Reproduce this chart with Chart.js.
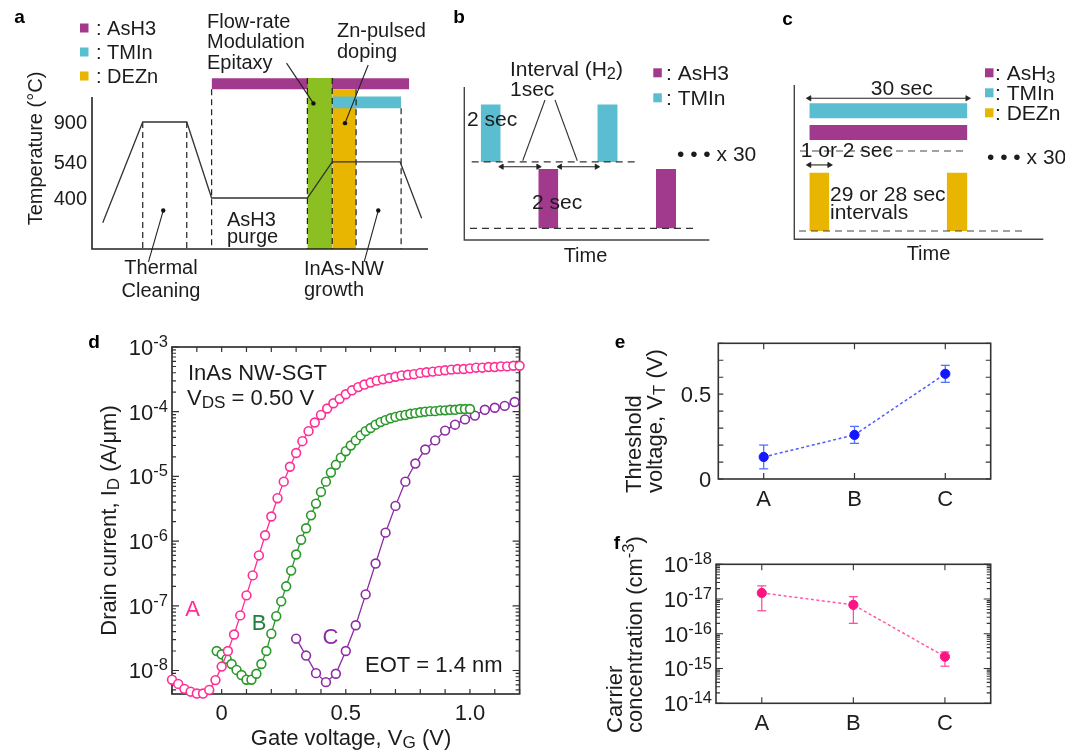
<!DOCTYPE html>
<html>
<head>
<meta charset="utf-8">
<title>InAs NW-SGT figure</title>
<script src="https://cdn.jsdelivr.net/npm/chart.js@4.4.1/dist/chart.umd.min.js"></script>
<style>
  html, body { margin:0; padding:0; background:#fff; }
  #fig { position:relative; width:1065px; height:754px; background:#fff; overflow:hidden; }
  #fig canvas { position:absolute; left:0; top:0; }
</style>
</head>
<body>
<div id="fig">
  <canvas id="panelA" width="1065" height="754"></canvas>
  <canvas id="panelB" width="1065" height="754"></canvas>
  <canvas id="panelC" width="1065" height="754"></canvas>
  <canvas id="panelD" width="1065" height="754"></canvas>
  <canvas id="panelE" width="1065" height="754"></canvas>
  <canvas id="panelF" width="1065" height="754"></canvas>
</div>
<script>
// ======================= DATA =======================
// (a) growth sequence, schematic time axis (0-100) and schematic temperature levels
const aGasNames       = ['AsH3', 'TMIn', 'DEZn'];
const aTempTickLabels = ['400', '540', '900'];
const aTempTickLevels = [0, 0.95, 2];
const aProfileTime    = [3.2, 15.1, 28.2, 35.6, 64.1, 71.5, 91.7, 98.1];
const aProfileLevel   = [-0.65, 2, 2, 0, 0, 0.95, 0.95, -0.53];
const aAsH3Time = [35.6, 94.4], aAsH3Level = [2.86, 3.15];
const aTMInTime = [71.5, 92.0], aTMInLevel = [2.36, 2.67];
const aFMETime  = [64.1, 71.5], aFMELevel  = [-1.342, 3.16];
const aZnTime   = [71.5, 78.6], aZnLevel   = [-1.342, 2.86];
const aStepTime = [15.1, 28.2, 35.6, 64.1, 71.5, 78.6, 92.0];
const aStepTop  = [2, 2, 2.86, 3.16, 3.16, 2.86, 2.36];
const aLeaderFrom = [[57.9, 3.55], [82.2, 3.5], [16.8, -1.68], [81.0, -1.68]];
const aLeaderTo   = [[65.9, 2.49], [75.3, 1.97], [21.2, -0.33], [85.2, -0.33]];

// (b) flow-rate modulation epitaxy pulses (schematic)
const bTMInPulses = [[1.64, 3.64], [13.3, 15.34]], bTMInLevel = [0.51, 0.885];
const bAsH3Pulses = [[7.4, 9.4], [19.17, 21.17]],  bAsH3Level = [0.076, 0.464];
const bBaseLevels = [0.51, 0.076];
const bBaseSpans  = [[0.74, 17.47], [0.57, 23.07]];
const bIntervalArrows = [[3.74, 7.4], [9.57, 13.24]], bArrowLevel = 0.479;
const bLeaderFrom = [[8.07, 0.915], [9.07, 0.915]];
const bLeaderTo   = [[5.84, 0.518], [11.3, 0.518]];

// (c) Zn-pulsed doping (schematic, seconds)
const cRunTime   = [3, 33];
const cTMInLevel = [0.784, 0.881];
const cAsH3Level = [0.644, 0.741];
const cZnPulses  = [[3, 6.8], [29.07, 33]], cZnLevel = [0.054, 0.432];
const cBaseLevels = [0.572, 0.054];
const cBaseSpans  = [[1.23, 33], [1.04, 43.93]];
const cArrowLevels = [0.914, 0.482];
const cArrowSpans  = [[3, 33], [3, 6.8]];

// (d) transfer characteristics, ID (A/um) vs VG (V)
const dVgA = [-0.2,-0.175,-0.15,-0.125,-0.1,-0.075,-0.05,-0.025,0,0.025,0.05,0.075,0.1,0.125,0.15,0.175,0.2,0.225,0.25,0.275,0.3,0.325,0.35,0.375,0.4,0.425,0.45,0.475,0.5,0.525,0.55,0.575,0.6,0.625,0.65,0.675,0.7,0.725,0.75,0.775,0.8,0.825,0.85,0.875,0.9,0.925,0.95,0.975,1.0,1.025,1.05,1.075,1.1,1.125,1.15,1.175,1.2];
const dIdA = [7.2e-9,6.2e-9,5.2e-9,4.7e-9,4.4e-9,4.4e-9,5.0e-9,7.1e-9,1.15e-8,2.0e-8,3.6e-8,7.1e-8,1.45e-7,2.95e-7,6.0e-7,1.23e-6,2.4e-6,4.6e-6,8.3e-6,1.41e-5,2.3e-5,3.5e-5,5.0e-5,6.8e-5,8.9e-5,1.12e-4,1.35e-4,1.58e-4,1.86e-4,2.14e-4,2.4e-4,2.63e-4,2.82e-4,3.02e-4,3.16e-4,3.31e-4,3.47e-4,3.63e-4,3.72e-4,3.80e-4,3.98e-4,4.07e-4,4.17e-4,4.27e-4,4.37e-4,4.47e-4,4.57e-4,4.57e-4,4.68e-4,4.79e-4,4.79e-4,4.90e-4,4.90e-4,5.01e-4,5.01e-4,5.13e-4,5.13e-4];
const dVgB = [-0.02,0,0.02,0.04,0.06,0.08,0.10,0.12,0.14,0.16,0.18,0.20,0.22,0.24,0.26,0.28,0.30,0.32,0.34,0.36,0.38,0.40,0.42,0.44,0.46,0.48,0.50,0.52,0.54,0.56,0.58,0.60,0.62,0.64,0.66,0.68,0.70,0.72,0.74,0.76,0.78,0.80,0.82,0.84,0.86,0.88,0.90,0.92,0.94,0.96,0.98,1.00];
const dIdB = [2.0e-8,1.78e-8,1.51e-8,1.26e-8,1.02e-8,8.5e-9,7.2e-9,7.2e-9,8.9e-9,1.26e-8,2.0e-8,3.7e-8,6.9e-8,1.17e-7,2.0e-7,3.5e-7,6.2e-7,1.05e-6,1.58e-6,2.5e-6,3.8e-6,5.75e-6,8.3e-6,1.15e-5,1.51e-5,1.95e-5,2.45e-5,3.0e-5,3.6e-5,4.3e-5,5.0e-5,5.6e-5,6.3e-5,6.9e-5,7.4e-5,7.9e-5,8.3e-5,8.7e-5,8.9e-5,9.3e-5,9.5e-5,9.8e-5,1.0e-4,1.02e-4,1.02e-4,1.05e-4,1.05e-4,1.07e-4,1.07e-4,1.10e-4,1.10e-4,1.10e-4];
const dVgC = [0.30,0.34,0.38,0.42,0.46,0.50,0.54,0.58,0.62,0.66,0.70,0.74,0.78,0.82,0.86,0.90,0.94,0.98,1.02,1.06,1.10,1.14,1.18];
const dIdC = [3.1e-8,1.7e-8,9.1e-9,6.6e-9,8.9e-9,2.0e-8,5.0e-8,1.5e-7,4.5e-7,1.35e-6,3.5e-6,8.3e-6,1.58e-5,2.6e-5,3.6e-5,5.1e-5,6.3e-5,7.6e-5,8.7e-5,1.07e-4,1.15e-4,1.23e-4,1.41e-4];
const dXTickValues = [0, 0.5, 1.0];
const dXTickLabels = ['0', '0.5', '1.0'];
const dYTickExp    = [-3, -4, -5, -6, -7, -8];

// (e) threshold voltage
const eSamples = ['A', 'B', 'C'];
const eVt      = [0.13, 0.26, 0.62];
const eVtLow   = [0.06, 0.21, 0.57];
const eVtHigh  = [0.20, 0.31, 0.67];
const eYTickValues = [0, 0.5];
const eYTickLabels = ['0', '0.5'];

// (f) carrier concentration
const fSamples = ['A', 'B', 'C'];
const fConc     = [1.5e17, 6.8e16, 2.2e15];
const fConcLow  = [4.6e16, 2.0e16, 1.17e15];
const fConcHigh = [2.4e17, 1.17e17, 3.0e15];
const fTickExp  = [14, 15, 16, 17, 18];

// ======================= STYLE / HELPERS =======================
const FONT = '"Liberation Sans", Arial, Helvetica, sans-serif';
const INK = '#1c1c1c';
const C_ASH3 = '#a1398d', C_TMIN = '#5bbdd0', C_DEZN = '#e8b500', C_FME = '#8bbf22';
const C_A = '#ff2e96', C_B = '#2a982a', C_C = '#8c2ca4';
const FRAME = '#333';

function drawRich(ctx, parts, x, y, o) {
  o = o || {};
  const size = o.size || 20, align = o.align || 'left';
  const weight = o.bold ? 'bold ' : '';
  const items = (Array.isArray(parts) ? parts : [parts]).map(p =>
    typeof p === 'string' ? { t: p, m: '' } : { t: p[0], m: p[1] });
  ctx.save();
  ctx.translate(x, y);
  if (o.rot) ctx.rotate(o.rot);
  ctx.fillStyle = o.color || INK;
  ctx.textBaseline = 'alphabetic';
  ctx.textAlign = 'left';
  let total = 0;
  for (const it of items) {
    it.size = it.m === 'sub' ? size * 0.78 : it.m === 'sup' ? size * 0.75 : size;
    ctx.font = weight + it.size + 'px ' + FONT;
    it.w = ctx.measureText(it.t).width;
    total += it.w;
  }
  let cx = align === 'center' ? -total / 2 : align === 'right' ? -total : 0;
  const base = size * 0.36;
  for (const it of items) {
    ctx.font = weight + it.size + 'px ' + FONT;
    const dy = it.m === 'sub' ? size * 0.14 : it.m === 'sup' ? -size * 0.36 : 0;
    ctx.fillText(it.t, cx, base + dy);
    cx += it.w;
  }
  ctx.restore();
}
function padTo(l, t, r, b) { return { left: l, top: t, right: 1065 - r, bottom: 754 - b }; }
function baseOptions(pad, xOpt, yOpt) {
  return {
    responsive: false, maintainAspectRatio: false, animation: false, events: [],
    layout: { padding: pad },
    plugins: { legend: { display: false }, tooltip: { enabled: false }, title: { display: false } },
    scales: {
      x: Object.assign({ type: 'linear', display: false }, xOpt),
      y: Object.assign({ type: 'linear', display: false }, yOpt)
    }
  };
}
function layered(list) { list.forEach((d, i) => { d.order = list.length - i; }); return list; }
function rectDS(xr, yr, color) {
  return { type: 'line', data: [{ x: xr[0], y: yr[1] }, { x: xr[1], y: yr[1] }],
    fill: { value: yr[0] }, backgroundColor: color, borderColor: 'rgba(0,0,0,0)', borderWidth: 0,
    pointRadius: 0, tension: 0, clip: false };
}
function lineDS(points, opt) {
  return Object.assign({ type: 'line', data: points, borderColor: '#333', borderWidth: 1.3,
    pointRadius: 0, fill: false, tension: 0, clip: false }, opt);
}
function arrowDS(x0, x1, y) {
  return lineDS([{ x: x0, y: y }, { x: x1, y: y }], { borderColor: '#222', borderWidth: 1.1,
    pointStyle: 'triangle', pointRotation: [-90, 90], pointRadius: 3,
    pointBackgroundColor: '#222', pointBorderColor: '#222', pointBorderWidth: 0.8 });
}
function curveDS(xs, ys, color) {
  return { type: 'line', data: xs.map((x, i) => ({ x: x, y: ys[i] })), borderColor: color, borderWidth: 1.3,
    pointRadius: 4.4, pointBorderWidth: 1.6, pointBorderColor: color, pointBackgroundColor: '#fff',
    tension: 0, clip: false, fill: false };
}
function errDS(lo, hi, color) {
  const pts = [];
  lo.forEach((l, i) => { pts.push({ x: i, y: l }, { x: i, y: hi[i] }, { x: i, y: null }); });
  return { type: 'line', data: pts, borderColor: color, borderWidth: 1.3, spanGaps: false,
    pointStyle: 'line', pointRadius: 4.5, pointBorderWidth: 1.3, pointBorderColor: color, clip: false, fill: false };
}
function markerDS(vals, color) {
  return { type: 'line', data: vals.map((v, i) => ({ x: i, y: v })), showLine: false,
    pointRadius: 4.6, pointBackgroundColor: color, pointBorderColor: color, pointBorderWidth: 1, clip: false };
}
function legendRows(ctx, names, colors, sx, sy, step, tx, size, subLast) {
  names.forEach((g, i) => {
    ctx.fillStyle = colors[i];
    ctx.fillRect(sx, sy + step * i, 8.5, 9);
    const parts = (subLast && /\d$/.test(g)) ? [': ' + g.slice(0, -1), [g.slice(-1), 'sub']] : [': ' + g];
    drawRich(ctx, parts, tx, sy + 4.5 + step * i, { size: size });
  });
}

// ======================= PANEL a =======================
const A_YMIN = -1.342, A_YMAX = 3.237, A_AXIS_TOP = 2.66;
new Chart(document.getElementById('panelA'), {
  type: 'line',
  data: { datasets: layered([
    rectDS(aAsH3Time, aAsH3Level, C_ASH3),
    rectDS(aFMETime, aFMELevel, C_FME),
    rectDS(aZnTime, aZnLevel, C_DEZN),
    rectDS(aTMInTime, aTMInLevel, C_TMIN),
    ...aStepTime.map((t, i) => lineDS([{ x: t, y: aStepTop[i] }, { x: t, y: A_YMIN }],
      { borderDash: [6, 4], borderColor: '#222', borderWidth: 1.2 })),
    lineDS(aProfileTime.map((t, i) => ({ x: t, y: aProfileLevel[i] })), { borderColor: '#333', borderWidth: 1.3 }),
    ...aLeaderFrom.map((f, i) => lineDS([{ x: f[0], y: f[1] }, { x: aLeaderTo[i][0], y: aLeaderTo[i][1] }],
      { borderWidth: 1.1, borderColor: '#222', pointRadius: [0, 2.2], pointBackgroundColor: '#111', pointBorderWidth: 0 }))
  ]) },
  options: baseOptions(padTo(92, 75, 428, 249), { min: 0, max: 100 }, { min: A_YMIN, max: A_YMAX }),
  plugins: [{
    id: 'aDecor',
    afterDraw(chart) {
      const ctx = chart.ctx, X = chart.scales.x, Y = chart.scales.y;
      const px = v => X.getPixelForValue(v), py = v => Y.getPixelForValue(v);
      ctx.save();
      ctx.strokeStyle = '#222'; ctx.lineWidth = 1.6;
      ctx.beginPath();
      ctx.moveTo(px(0), py(A_AXIS_TOP)); ctx.lineTo(px(0), py(A_YMIN)); ctx.lineTo(px(100), py(A_YMIN));
      ctx.stroke();
      ctx.restore();
      aTempTickLabels.forEach((t, i) => drawRich(ctx, t, px(0) - 5, py(aTempTickLevels[i]), { size: 20, align: 'right' }));
      legendRows(ctx, aGasNames, [C_ASH3, C_TMIN, C_DEZN], 80, 23.5, 24, 96, 20, false);
      const notes = [
        ['Flow-rate', 207, 20.5], ['Modulation', 207, 40.5], ['Epitaxy', 207, 62],
        ['Zn-pulsed', 337, 30], ['doping', 337, 51],
        ['AsH3', 227, 218.5], ['purge', 227, 236],
        ['InAs-NW', 304, 268], ['growth', 304, 289]
      ];
      notes.forEach(n => drawRich(ctx, n[0], n[1], n[2], { size: 20 }));
      drawRich(ctx, 'Thermal', 161, 267, { size: 20, align: 'center' });
      drawRich(ctx, 'Cleaning', 161, 290, { size: 20, align: 'center' });
      drawRich(ctx, 'Temperature (°C)', 35, 148.5, { size: 20, align: 'center', rot: -Math.PI / 2 });
      drawRich(ctx, 'a', 19.5, 16, { size: 19, bold: true, align: 'center', color: '#000' });
    }
  }]
});

// ======================= PANEL b =======================
new Chart(document.getElementById('panelB'), {
  type: 'line',
  data: { datasets: layered([
    ...bTMInPulses.map(p => rectDS(p, bTMInLevel, C_TMIN)),
    ...bAsH3Pulses.map(p => rectDS(p, bAsH3Level, C_ASH3)),
    ...bBaseLevels.map((lv, i) => lineDS([{ x: bBaseSpans[i][0], y: lv }, { x: bBaseSpans[i][1], y: lv }],
      { borderDash: [7, 5], borderColor: '#333', borderWidth: 1.2 })),
    ...bIntervalArrows.map(a => arrowDS(a[0], a[1], bArrowLevel)),
    ...bLeaderFrom.map((f, i) => lineDS([{ x: f[0], y: f[1] }, { x: bLeaderTo[i][0], y: bLeaderTo[i][1] }],
      { borderWidth: 1.1, borderColor: '#333' }))
  ]) },
  options: baseOptions(padTo(464.3, 87, 709.3, 240), { min: 0, max: 24.5 }, { min: 0, max: 1 }),
  plugins: [{
    id: 'bDecor',
    afterDraw(chart) {
      const ctx = chart.ctx, ca = chart.chartArea;
      ctx.save();
      ctx.strokeStyle = '#444'; ctx.lineWidth = 1.4;
      ctx.beginPath(); ctx.moveTo(ca.left, ca.top); ctx.lineTo(ca.left, ca.bottom); ctx.lineTo(ca.right, ca.bottom); ctx.stroke();
      ctx.restore();
      drawRich(ctx, ['Interval (H', ['2', 'sub'], ')'], 510, 68.5, { size: 21 });
      drawRich(ctx, '1sec', 510, 88, { size: 21 });
      drawRich(ctx, '2 sec', 467, 118.5, { size: 21 });
      drawRich(ctx, '2 sec', 532, 201.7, { size: 21 });
      drawRich(ctx, '• • • x 30', 677, 153.5, { size: 21 });
      legendRows(ctx, ['AsH3', 'TMIn'], [C_ASH3, C_TMIN], 653.3, 68.3, 25, 666, 21, false);
      drawRich(ctx, 'Time', 585.5, 255, { size: 20, align: 'center' });
      drawRich(ctx, 'b', 459, 16.5, { size: 19, bold: true, align: 'center', color: '#000' });
    }
  }]
});

// ======================= PANEL c =======================
new Chart(document.getElementById('panelC'), {
  type: 'line',
  data: { datasets: layered([
    rectDS(cRunTime, cTMInLevel, C_TMIN),
    rectDS(cRunTime, cAsH3Level, C_ASH3),
    ...cZnPulses.map(p => rectDS(p, cZnLevel, C_DEZN)),
    ...cBaseLevels.map((lv, i) => lineDS([{ x: cBaseSpans[i][0], y: lv }, { x: cBaseSpans[i][1], y: lv }],
      { borderDash: [7, 5], borderColor: '#444', borderWidth: 1.1 })),
    ...cArrowLevels.map((lv, i) => arrowDS(cArrowSpans[i][0], cArrowSpans[i][1], lv))
  ]) },
  options: baseOptions(padTo(794.3, 85, 1043.3, 239.3), { min: 0.15, max: 47.4 }, { min: 0, max: 1 }),
  plugins: [{
    id: 'cDecor',
    afterDraw(chart) {
      const ctx = chart.ctx, ca = chart.chartArea;
      ctx.save();
      ctx.strokeStyle = '#444'; ctx.lineWidth = 1.4;
      ctx.beginPath(); ctx.moveTo(ca.left, ca.top); ctx.lineTo(ca.left, ca.bottom); ctx.lineTo(ca.right, ca.bottom); ctx.stroke();
      ctx.restore();
      drawRich(ctx, '30 sec', 901.7, 87, { size: 21, align: 'center' });
      drawRich(ctx, '1 or 2 sec', 800.7, 149, { size: 21 });
      drawRich(ctx, '29 or 28 sec', 830, 193.5, { size: 21 });
      drawRich(ctx, 'intervals', 830, 211.5, { size: 21 });
      drawRich(ctx, '• • • x 30', 987, 156.5, { size: 21 });
      legendRows(ctx, ['AsH3', 'TMIn', 'DEZn'], [C_ASH3, C_TMIN, C_DEZN], 985, 68.3, 20, 995, 21, true);
      drawRich(ctx, 'Time', 928.5, 252.5, { size: 20, align: 'center' });
      drawRich(ctx, 'c', 787.5, 18, { size: 19, bold: true, align: 'center', color: '#000' });
    }
  }]
});

// ======================= PANEL d =======================
new Chart(document.getElementById('panelD'), {
  type: 'line',
  data: { datasets: layered([
    curveDS(dVgC, dIdC, C_C),
    curveDS(dVgB, dIdB, C_B),
    curveDS(dVgA, dIdA, C_A)
  ]) },
  options: baseOptions(padTo(172, 347, 519.6, 694), { min: -0.2, max: 1.2 }, { type: 'logarithmic', min: 4.33e-9, max: 1e-3 }),
  plugins: [{
    id: 'dDecor',
    beforeDatasetsDraw(chart) {
      const ctx = chart.ctx, ca = chart.chartArea, X = chart.scales.x, Y = chart.scales.y;
      ctx.save();
      ctx.strokeStyle = FRAME; ctx.lineWidth = 1.7;
      ctx.strokeRect(ca.left, ca.top, ca.right - ca.left, ca.bottom - ca.top);
      ctx.lineWidth = 1.2; ctx.beginPath();
      for (let i = -2; i <= 12; i++) {
        const x = X.getPixelForValue(i / 10);
        ctx.moveTo(x, ca.bottom); ctx.lineTo(x, ca.bottom - 5);
        ctx.moveTo(x, ca.top); ctx.lineTo(x, ca.top + 5);
      }
      for (let e = -9; e <= -3; e++) for (let m = 1; m <= 9; m++) {
        const v = m * Math.pow(10, e);
        if (v < Y.min * 0.999 || v > Y.max * 1.001) continue;
        const y = Y.getPixelForValue(v), L = m === 1 ? 7 : 4;
        ctx.moveTo(ca.left, y); ctx.lineTo(ca.left + L, y);
        ctx.moveTo(ca.right, y); ctx.lineTo(ca.right - L, y);
      }
      ctx.stroke(); ctx.restore();
    },
    afterDraw(chart) {
      const ctx = chart.ctx, ca = chart.chartArea, X = chart.scales.x, Y = chart.scales.y;
      dYTickExp.forEach(e => drawRich(ctx, ['10', [String(e), 'sup']], ca.left - 4, Y.getPixelForValue(Math.pow(10, e)), { size: 22, align: 'right' }));
      dXTickValues.forEach((v, i) => drawRich(ctx, dXTickLabels[i], X.getPixelForValue(v), ca.bottom + 18, { size: 22, align: 'center' }));
      drawRich(ctx, ['Drain current, I', ['D', 'sub'], ' (A/μm)'], 108, (ca.top + ca.bottom) / 2, { size: 22, align: 'center', rot: -Math.PI / 2 });
      drawRich(ctx, ['Gate voltage, V', ['G', 'sub'], ' (V)'], 351, 737, { size: 22, align: 'center' });
      drawRich(ctx, 'InAs NW-SGT', 188, 372, { size: 22 });
      drawRich(ctx, ['V', ['DS', 'sub'], ' = 0.50 V'], 187, 397, { size: 22 });
      drawRich(ctx, 'A', 192.5, 608, { size: 22, align: 'center', color: C_A });
      drawRich(ctx, 'B', 259, 622, { size: 22, align: 'center', color: '#23803a' });
      drawRich(ctx, 'C', 330.5, 636, { size: 22, align: 'center', color: C_C });
      drawRich(ctx, 'EOT = 1.4 nm', 365, 664.5, { size: 22 });
      drawRich(ctx, 'd', 94, 341, { size: 19, bold: true, align: 'center', color: '#000' });
    }
  }]
});

// ======================= PANEL e =======================
new Chart(document.getElementById('panelE'), {
  type: 'line',
  data: { datasets: layered([
    lineDS(eVt.map((v, i) => ({ x: i, y: v })), { borderColor: '#4d5dff', borderWidth: 1.5, borderDash: [3, 2.5] }),
    errDS(eVtLow, eVtHigh, '#5070ff'),
    markerDS(eVt, '#1616ff')
  ]) },
  options: baseOptions(padTo(718.3, 343.3, 990.7, 479), { min: -0.5, max: 2.5 }, { min: 0, max: 0.8 }),
  plugins: [{
    id: 'eDecor',
    beforeDatasetsDraw(chart) {
      const ctx = chart.ctx, ca = chart.chartArea, X = chart.scales.x, Y = chart.scales.y;
      ctx.save();
      ctx.strokeStyle = FRAME; ctx.lineWidth = 1.6;
      ctx.strokeRect(ca.left, ca.top, ca.right - ca.left, ca.bottom - ca.top);
      ctx.lineWidth = 1.2; ctx.beginPath();
      for (let i = 0; i <= 8; i++) {
        const y = Y.getPixelForValue(i / 10);
        ctx.moveTo(ca.left, y); ctx.lineTo(ca.left + 5, y);
        ctx.moveTo(ca.right, y); ctx.lineTo(ca.right - 5, y);
      }
      eSamples.forEach((s, i) => {
        const x = X.getPixelForValue(i);
        ctx.moveTo(x, ca.bottom); ctx.lineTo(x, ca.bottom - 6);
        ctx.moveTo(x, ca.top); ctx.lineTo(x, ca.top + 6);
      });
      ctx.stroke(); ctx.restore();
    },
    afterDraw(chart) {
      const ctx = chart.ctx, ca = chart.chartArea, X = chart.scales.x, Y = chart.scales.y;
      eYTickValues.forEach((v, i) => drawRich(ctx, eYTickLabels[i], ca.left - 7, Y.getPixelForValue(v), { size: 22, align: 'right' }));
      eSamples.forEach((s, i) => drawRich(ctx, s, X.getPixelForValue(i), 498, { size: 22, align: 'center' }));
      drawRich(ctx, 'Threshold', 633, 493, { size: 22, rot: -Math.PI / 2 });
      drawRich(ctx, ['voltage, V', ['T', 'sub'], ' (V)'], 654, 493, { size: 22, rot: -Math.PI / 2 });
      drawRich(ctx, 'e', 620, 341, { size: 19, bold: true, align: 'center', color: '#000' });
    }
  }]
});

// ======================= PANEL f =======================
new Chart(document.getElementById('panelF'), {
  type: 'line',
  data: { datasets: layered([
    lineDS(fConc.map((v, i) => ({ x: i, y: v })), { borderColor: '#ff5aa8', borderWidth: 1.5, borderDash: [3, 2.5] }),
    errDS(fConcLow, fConcHigh, '#ff4f9f'),
    markerDS(fConc, '#ff1284')
  ]) },
  options: baseOptions(padTo(716, 564.3, 990.7, 703.3), { min: -0.5, max: 2.5 }, { type: 'logarithmic', min: 1e14, max: 1e18 }),
  plugins: [{
    id: 'fDecor',
    beforeDatasetsDraw(chart) {
      const ctx = chart.ctx, ca = chart.chartArea, X = chart.scales.x, Y = chart.scales.y;
      ctx.save();
      ctx.strokeStyle = FRAME; ctx.lineWidth = 1.6;
      ctx.strokeRect(ca.left, ca.top, ca.right - ca.left, ca.bottom - ca.top);
      ctx.lineWidth = 1.1; ctx.beginPath();
      for (let e = 14; e <= 18; e++) for (let m = 1; m <= 9; m++) {
        const v = m * Math.pow(10, e);
        if (v > Y.max * 1.001) continue;
        const y = Y.getPixelForValue(v), L = m === 1 ? 7 : 4;
        ctx.moveTo(ca.left, y); ctx.lineTo(ca.left + L, y);
        ctx.moveTo(ca.right, y); ctx.lineTo(ca.right - L, y);
      }
      fSamples.forEach((s, i) => {
        const x = X.getPixelForValue(i);
        ctx.moveTo(x, ca.bottom); ctx.lineTo(x, ca.bottom - 6);
        ctx.moveTo(x, ca.top); ctx.lineTo(x, ca.top + 6);
      });
      ctx.stroke(); ctx.restore();
    },
    afterDraw(chart) {
      const ctx = chart.ctx, ca = chart.chartArea, X = chart.scales.x, Y = chart.scales.y;
      fTickExp.forEach(e => drawRich(ctx, ['10', ['-' + e, 'sup']], ca.left - 4, Y.getPixelForValue(Math.pow(10, e)), { size: 22, align: 'right' }));
      fSamples.forEach((s, i) => drawRich(ctx, s, X.getPixelForValue(i), 722, { size: 22, align: 'center' }));
      drawRich(ctx, 'Carrier', 614, 733, { size: 22, rot: -Math.PI / 2 });
      drawRich(ctx, ['concentration (cm', ['-3', 'sup'], ')'], 634, 733, { size: 22, rot: -Math.PI / 2 });
      drawRich(ctx, 'f', 617, 542, { size: 19, bold: true, align: 'center', color: '#000' });
    }
  }]
});
</script>
</body>
</html>
